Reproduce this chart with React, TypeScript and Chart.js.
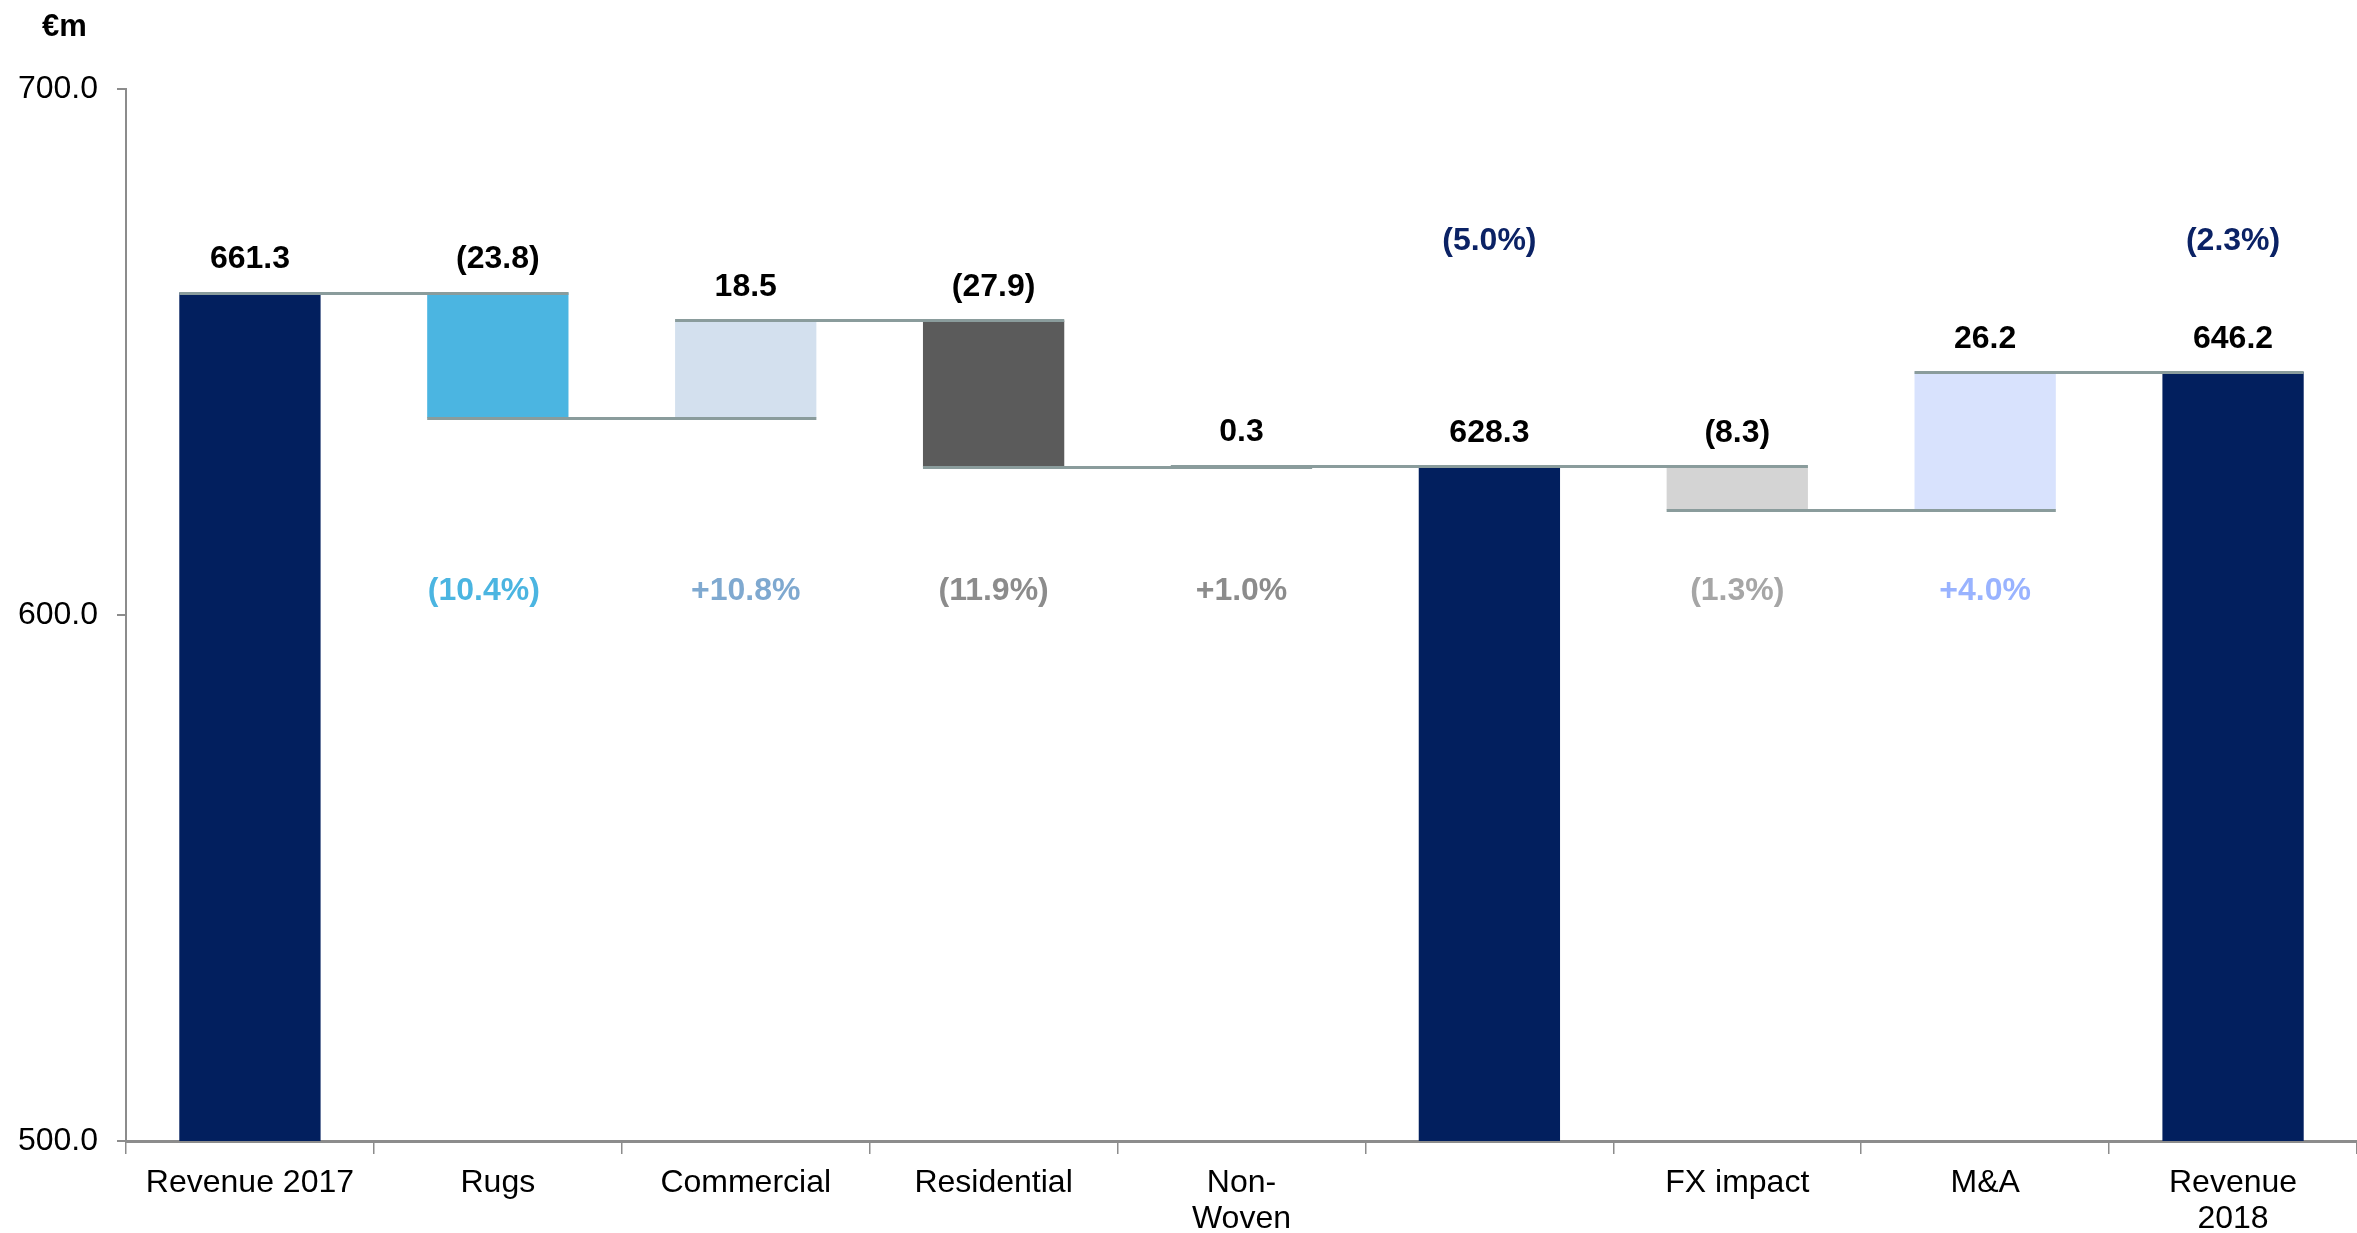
import React, { useEffect, useRef } from "react";
import { Chart, registerables } from "chart.js";

Chart.register(...registerables);

const categories: (string | string[])[] = [
  "Revenue 2017",
  "Rugs",
  "Commercial",
  "Residential",
  ["Non-", "Woven"],
  "",
  "FX impact",
  "M&A",
  ["Revenue", "2018"],
];
const values = [661.3, -23.8, 18.5, -27.9, 0.3, 628.3, -8.3, 26.2, 646.2];
const isTotal = [true, false, false, false, false, true, false, false, true];
const valueLabels = ["661.3", "(23.8)", "18.5", "(27.9)", "0.3", "628.3", "(8.3)", "26.2", "646.2"];
const pctLabels = ["", "(10.4%)", "+10.8%", "(11.9%)", "+1.0%", "(5.0%)", "(1.3%)", "+4.0%", "(2.3%)"];
const barColors = ["#021F5E", "#4BB5E1", "#D3E0EE", "#5B5B5B", "#A6A6A6", "#021F5E", "#D4D4D4", "#D8E2FD", "#021F5E"];
const pctColors = ["#0B2265", "#4BB5E1", "#7FA9D0", "#8C8C8C", "#8C8C8C", "#0B2265", "#A6A6A6", "#99B3FF", "#0B2265"];
const yTicks = [500, 600, 700];

const Y_MIN = 500;
const Y_MAX = 700;
const FONT = "'Liberation Sans', Arial, sans-serif";

function buildRanges(): [number, number][] {
  const out: [number, number][] = [];
  let run = 0;
  values.forEach((v, i) => {
    if (isTotal[i]) {
      run = v;
      out.push([Y_MIN, v]);
    } else {
      const start = run;
      run = run + v;
      out.push([start, run]);
    }
  });
  return out;
}

export default function App() {
  const ref = useRef<HTMLCanvasElement | null>(null);

  useEffect(() => {
    const canvas = ref.current;
    if (!canvas) return;
    const ranges = buildRanges();
    const endLevels = ranges.map((r) => r[1]);

    const overlay = {
      id: "waterfallOverlay",
      afterDatasetsDraw(chart: any) {
        const ctx = chart.ctx;
        const meta = chart.getDatasetMeta(0);
        const y = chart.scales.y;
        ctx.save();
        // connectors
        ctx.strokeStyle = "#8A9C9C";
        ctx.lineWidth = 3;
        for (let i = 0; i < ranges.length - 1; i++) {
          const a = meta.data[i];
          const b = meta.data[i + 1];
          const py = Math.round(y.getPixelForValue(endLevels[i])) + 0.5;
          ctx.beginPath();
          ctx.moveTo(a.x - a.width / 2, py);
          ctx.lineTo(b.x + b.width / 2, py);
          ctx.stroke();
        }
        // value and percentage labels
        ctx.textAlign = "center";
        ctx.textBaseline = "middle";
        ctx.font = `bold 32px ${FONT}`;
        ranges.forEach((r, i) => {
          const el = meta.data[i];
          const top = y.getPixelForValue(Math.max(r[0], r[1]));
          ctx.fillStyle = "#000000";
          ctx.fillText(valueLabels[i], el.x, top - 33);
          if (pctLabels[i]) {
            ctx.fillStyle = pctColors[i];
            const lvl = isTotal[i] ? 671 : 604.5;
            const dx = i === 1 ? -14 : 0;
            ctx.fillText(pctLabels[i], el.x + dx, y.getPixelForValue(lvl));
          }
        });
        // unit label
        ctx.fillStyle = "#000000";
        ctx.textAlign = "left";
        ctx.font = `bold 31px ${FONT}`;
        ctx.fillText("€m", 42, 27);
        ctx.restore();
      },
    };

    const chart = new Chart(canvas, {
      type: "bar",
      data: {
        labels: categories,
        datasets: [
          {
            data: ranges as any,
            backgroundColor: barColors,
            borderWidth: 0,
            barPercentage: 0.57,
            categoryPercentage: 1,
          },
        ],
      },
      options: {
        animation: false,
        responsive: false,
        maintainAspectRatio: false,
        layout: { padding: { top: 89, right: 0, bottom: 0, left: 0 } },
        plugins: {
          legend: { display: false },
          tooltip: { enabled: false },
        },
        scales: {
          x: {
            afterFit: (s: any) => {
              s.height = 92;
            },
            grid: {
              offset: true,
              drawOnChartArea: false,
              drawTicks: true,
              tickLength: 13,
              color: "#8C8C8C",
              lineWidth: 1.5,
            },
            border: { color: "#8C8C8C", width: 3 },
            ticks: {
              color: "#000000",
              font: { family: FONT, size: 32, lineHeight: 1.1 },
              padding: 12,
              maxRotation: 0,
              autoSkip: false,
            },
          },
          y: {
            min: Y_MIN,
            max: Y_MAX,
            afterFit: (s: any) => {
              s.width = 126;
            },
            afterBuildTicks: (s: any) => {
              s.ticks = yTicks.map((v) => ({ value: v }));
            },
            grid: {
              drawOnChartArea: false,
              drawTicks: true,
              tickLength: 9,
              color: "#8C8C8C",
              lineWidth: 2,
            },
            border: { color: "#8C8C8C", width: 2 },
            ticks: {
              color: "#000000",
              font: { family: FONT, size: 32 },
              padding: 19,
              callback: (v: any) => Number(v).toFixed(1),
            },
          },
        },
      },
      plugins: [overlay],
    });
    return () => chart.destroy();
  }, []);

  return (
    <div style={{ position: "fixed", left: 0, top: 0, width: 2357, height: 1233, background: "#fff" }}>
      <canvas ref={ref} width={2357} height={1233} style={{ width: 2357, height: 1233, display: "block" }} />
    </div>
  );
}
